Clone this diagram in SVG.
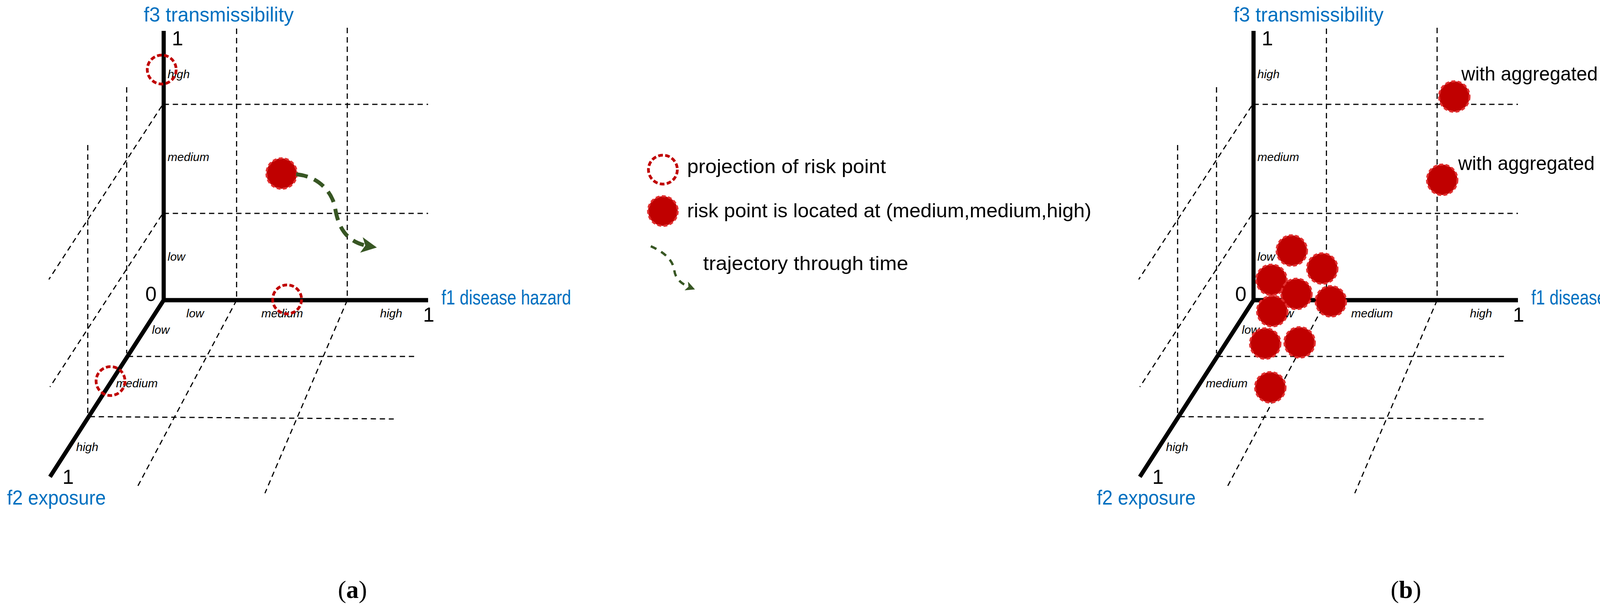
<svg xmlns="http://www.w3.org/2000/svg" width="4328" height="1571" viewBox="0 0 4328 1571">
<style>
.ax{stroke:#000;stroke-width:11;fill:none}
.g{stroke:#000;stroke-width:3;stroke-dasharray:14 10;fill:none}
.t{font-family:"Liberation Sans",Arial,sans-serif;font-size:50px;fill:#000}
.n{font-family:"Liberation Sans",Arial,sans-serif;font-size:52px;fill:#000}
.b{font-family:"Liberation Sans",Arial,sans-serif;font-size:52px;fill:#0070c0}
.s{font-family:"Liberation Sans",Arial,sans-serif;font-size:30px;font-style:italic;fill:#000}
.pr{fill:none;stroke:#c00000;stroke-width:7;stroke-dasharray:12 6}
.pt{fill:#c00000;stroke:#e03030;stroke-width:5;stroke-dasharray:10 6}
.tr{fill:none;stroke:#375623;stroke-width:10;stroke-dasharray:30 18}
.cap{font-family:"Liberation Serif","Times New Roman",serif;font-size:64px}
</style>
<defs>
<marker id="ah" markerWidth="4" markerHeight="4" refX="2" refY="2" orient="auto"><path d="M0,0 L4,2 L0,4 L1,2 Z" fill="#375623"/></marker>
<g id="frame">
<g transform="matrix(0.967 0 0 1 10 0)">
<line class="g" x1="616" y1="73" x2="616" y2="768"/>
<line class="g" x1="909" y1="71" x2="909" y2="768"/>
<line class="g" x1="423" y1="267" x2="1123" y2="267"/>
<line class="g" x1="423" y1="546" x2="1123" y2="546"/>
<line class="g" x1="418" y1="271" x2="119" y2="715"/>
<line class="g" x1="418" y1="550" x2="122" y2="990"/>
<line class="g" x1="325" y1="223" x2="325" y2="904"/>
<line class="g" x1="222" y1="371" x2="222" y2="1066"/>
<line class="g" x1="328" y1="912" x2="1089" y2="912"/>
<line class="g" x1="227" y1="1066" x2="1032" y2="1072"/>
<line class="g" x1="616" y1="768" x2="351" y2="1250"/>
<line class="g" x1="909" y1="768" x2="691" y2="1262"/>
<line class="ax" x1="423" y1="79" x2="423" y2="768"/>
<line class="ax" x1="418" y1="768" x2="1123" y2="768"/>
<line class="ax" x1="423" y1="768" x2="122" y2="1220"/>
</g>
<text class="b" x="368" y="55" textLength="384" lengthAdjust="spacingAndGlyphs">f3 transmissibility</text>
<text class="b" x="1130" y="779" textLength="332" lengthAdjust="spacingAndGlyphs">f1 disease hazard</text>
<text class="b" x="18" y="1291" textLength="253" lengthAdjust="spacingAndGlyphs">f2 exposure</text>
<text class="n" x="440" y="116">1</text>
<text class="n" x="372" y="770">0</text>
<text class="n" x="1083" y="823">1</text>
<text class="n" x="160" y="1238">1</text>
<text class="s" x="429" y="200">high</text>
<text class="s" x="429" y="412">medium</text>
<text class="s" x="429" y="667">low</text>
<text class="s" x="477" y="812">low</text>
<text class="s" x="669" y="812">medium</text>
<text class="s" x="973" y="812">high</text>
<text class="s" x="389" y="854">low</text>
<text class="s" x="297" y="991">medium</text>
<text class="s" x="195" y="1154">high</text>
</g>
</defs>
<g id="panel-a">
<use href="#frame"/>
<circle id="proj-f3" class="pr" cx="414" cy="178" r="37"/>
<circle id="proj-f1" class="pr" cx="735" cy="766" r="37"/>
<circle id="proj-f2" class="pr" cx="283" cy="975" r="37"/>
<circle id="risk-point" class="pt" cx="721" cy="444" r="39"/>
<g id="connectors"><path class="tr" d="M758,446 C813,450 851,490 858,533 C866,580 885,620 945,630" marker-end="url(#ah)"/></g>
</g>
<g id="legend">
<circle class="pr" cx="1697" cy="434" r="37"/>
<text class="t" x="1759" y="443" textLength="509" lengthAdjust="spacingAndGlyphs">projection of risk point</text>
<circle class="pt" cx="1697" cy="540" r="38"/>
<text class="t" x="1759" y="556" textLength="1035" lengthAdjust="spacingAndGlyphs">risk point is located at (medium,medium,high)</text>
<path class="tr" style="stroke-width:6;stroke-dasharray:16 14" d="M1666,630 C1700,645 1722,665 1726,690 C1728,710 1740,725 1768,736" marker-end="url(#ah)"/>
<text class="t" x="1800" y="691" textLength="525" lengthAdjust="spacingAndGlyphs">trajectory through time</text>
</g>
<g id="panel-b">
<use href="#frame" transform="translate(2790,0)"/>
<g class="pts">
<circle class="pt" cx="3307" cy="641" r="39"/>
<circle class="pt" cx="3385" cy="687" r="39"/>
<circle class="pt" cx="3255" cy="716" r="39"/>
<circle class="pt" cx="3319" cy="752" r="39"/>
<circle class="pt" cx="3407" cy="771" r="39"/>
<circle class="pt" cx="3257" cy="796" r="39"/>
<circle class="pt" cx="3239" cy="879" r="39"/>
<circle class="pt" cx="3327" cy="876" r="39"/>
<circle class="pt" cx="3252" cy="991" r="39"/>
<circle class="pt" cx="3723" cy="247" r="39"/>
<circle class="pt" cx="3692" cy="460" r="39"/>
</g>
<text class="t" x="3741" y="206" textLength="562" lengthAdjust="spacingAndGlyphs">with aggregated parasites</text>
<text class="t" x="3733" y="435" textLength="562" lengthAdjust="spacingAndGlyphs">with aggregated parasites</text>
</g>
<text class="cap" x="865" y="1530">(<tspan font-weight="bold">a</tspan>)</text>
<text class="cap" x="3560" y="1530">(<tspan font-weight="bold">b</tspan>)</text>
</svg>
